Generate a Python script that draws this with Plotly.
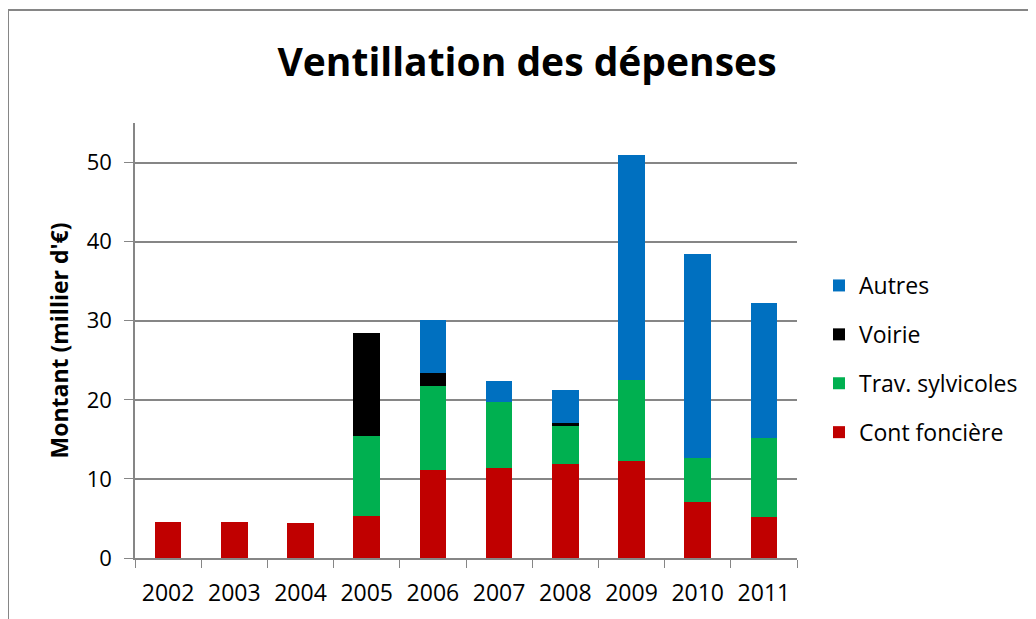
import plotly.graph_objects as go

years = ["2002", "2003", "2004", "2005", "2006", "2007", "2008", "2009", "2010", "2011"]
cont_fonciere = [4.5, 4.6, 4.4, 5.3, 11.1, 11.35, 11.9, 12.25, 7.1, 5.15]
trav_sylvicoles = [0, 0, 0, 10.1, 10.65, 8.35, 4.75, 10.3, 5.5, 10.05]
voirie = [0, 0, 0, 13.05, 1.65, 0, 0.4, 0, 0, 0]
autres = [0, 0, 0, 0, 6.7, 2.65, 4.2, 28.45, 25.8, 17.05]

series = [
    ("Cont foncière", cont_fonciere, "#C00000", 4),
    ("Trav. sylvicoles", trav_sylvicoles, "#00B050", 3),
    ("Voirie", voirie, "#000000", 2),
    ("Autres", autres, "#0070C0", 1),
]

fig = go.Figure()
for name, vals, col, rank in series:
    fig.add_trace(go.Bar(x=years, y=vals, name=name, marker=dict(color=col, line=dict(width=0)),
                         width=0.4, legendgroup=name, legendrank=rank))

FONT = "Open Sans"
# page has an 8px body offset; work in figure coordinates
W, H = 1028, 611
L, T = 127, 115
R = W - 789
B = H - 550
pw, ph = W - L - R, H - T - B

fig.update_layout(
    width=W, height=H,
    barmode="stack",
    margin=dict(l=L, r=R, t=T, b=B),
    paper_bgcolor="white", plot_bgcolor="white",
    font=dict(family=FONT, color="#000000"),
    title=dict(text="Ventillation des dépenses", x=519 / W, xanchor="center", y=1 - 54 / H, yanchor="middle",
               font=dict(family=FONT, size=39, color="#000000", weight="bold")),
    showlegend=True,
    legend=dict(traceorder="grouped", x=(811 - L) / pw, xanchor="left", y=(550 - 351) / ph, yanchor="middle",
                font=dict(family=FONT, size=23), tracegroupgap=16, bgcolor="rgba(0,0,0,0)"),
    xaxis=dict(type="category", tickson="boundaries", ticks="outside", ticklen=8, tickcolor="#868686",
               showline=True, linecolor="#868686", linewidth=1.5, showgrid=False,
               tickfont=dict(family=FONT, size=23), ticklabelstandoff=14, fixedrange=True),
    yaxis=dict(range=[0, 55], dtick=10, tick0=0, showgrid=True, gridcolor="#868686", gridwidth=1.5,
               ticks="outside", ticklen=9, tickcolor="#868686", showline=True, linecolor="#868686", linewidth=1.5,
               tickfont=dict(family=FONT, size=22), ticklabelstandoff=8, zeroline=False,
               title=dict(text="Montant (millier d'€)", font=dict(family=FONT, size=23, weight="bold"), standoff=12)),
    shapes=[
        dict(type="line", xref="paper", yref="paper", x0=(0 - L) / pw, x1=(W + 5 - L) / pw,
             y0=(550 - 2) / ph, y1=(550 - 2) / ph, line=dict(color="#868686", width=2)),
        dict(type="line", xref="paper", yref="paper", x0=(0 - L) / pw, x1=(0 - L) / pw,
             y0=(550 - 2) / ph, y1=(550 - H - 5) / ph, line=dict(color="#868686", width=2)),
    ],
)

fig.write_html("out.html")
